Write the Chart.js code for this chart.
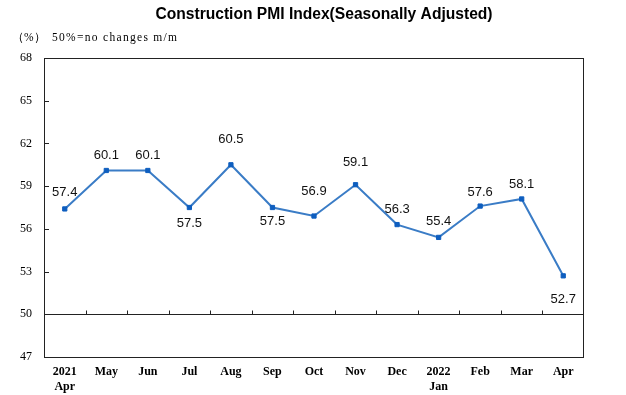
<!DOCTYPE html>
<html>
<head>
<meta charset="utf-8">
<script src="https://cdn.jsdelivr.net/npm/chart.js@4/dist/chart.umd.min.js"></script>
<style>
html,body{margin:0;padding:0;background:#fff;}
#wrap{position:relative;width:626px;height:395px;}
</style>
</head>
<body>
<div id="wrap"><canvas id="c" width="626" height="395"></canvas></div>
<script>
const categories = [['2021','Apr'],'May','Jun','Jul','Aug','Sep','Oct','Nov','Dec',['2022','Jan'],'Feb','Mar','Apr'];
const pmiValues = [57.4, 60.1, 60.1, 57.5, 60.5, 57.5, 56.9, 59.1, 56.3, 55.4, 57.6, 58.1, 52.7];
const yTicks = [47, 50, 53, 56, 59, 62, 65, 68];
const titleText = 'Construction PMI Index(Seasonally Adjusted)';
const unitText = '（%）';
const noteText = '50%=no changes m/m';

const serif = '"Liberation Serif", "DejaVu Serif", serif';
const sans = '"Liberation Sans", Arial, sans-serif';

const decor = {
  id: 'decor',
  afterDraw(chart, args, opts) {
    const ctx = chart.ctx;
    const a = chart.chartArea;
    const xs = chart.scales.x, ys = chart.scales.y;
    ctx.save();
    // titles
    ctx.fillStyle = '#000';
    ctx.font = 'bold 15.6px ' + sans;
    ctx.textAlign = 'center';
    ctx.textBaseline = 'middle';
    ctx.fillText(titleText, 324, 15);
    ctx.font = '11.5px ' + serif;
    ctx.textAlign = 'left';
    ctx.fillText(unitText, 12, 38);
    try { ctx.letterSpacing = '1.3px'; } catch (e) {}
    ctx.fillText(noteText, 52, 38);
    try { ctx.letterSpacing = '0px'; } catch (e) {}
    // frame
    ctx.strokeStyle = '#222';
    ctx.lineWidth = 1;
    ctx.strokeRect(Math.round(a.left) + 0.5, Math.round(a.top) + 0.5, Math.round(a.right - a.left) - 1, Math.round(a.bottom - a.top));
    // 50 line
    const y50 = Math.round(ys.getPixelForValue(50)) + 0.5;
    ctx.beginPath();
    ctx.moveTo(a.left, y50); ctx.lineTo(a.right, y50);
    ctx.stroke();
    // y tick marks inward
    yTicks.forEach(v => {
      if (v === 47 || v === 68 || v === 50) return;
      const y = Math.round(ys.getPixelForValue(v)) + 0.5;
      ctx.beginPath();
      ctx.moveTo(a.left, y); ctx.lineTo(a.left + 5, y);
      ctx.stroke();
    });
    // x tick marks at category boundaries on the 50 line
    for (let i = 1; i < categories.length; i++) {
      const x = Math.round((xs.getPixelForValue(i - 1) + xs.getPixelForValue(i)) / 2) + 0.5;
      ctx.beginPath();
      ctx.moveTo(x, y50); ctx.lineTo(x, y50 - 4);
      ctx.stroke();
    }
    // data labels
    const meta = chart.getDatasetMeta(0);
    ctx.font = '13px ' + sans;
    ctx.fillStyle = '#111';
    ctx.textAlign = 'center';
    ctx.textBaseline = 'middle';
    meta.data.forEach((pt, i) => {
      const dy = opts.labelOffsets[i];
      ctx.fillText(pmiValues[i].toFixed(1), pt.x, pt.y + dy);
    });
    ctx.restore();
  }
};

new Chart(document.getElementById('c'), {
  type: 'line',
  data: {
    labels: categories,
    datasets: [{
      data: pmiValues,
      borderColor: '#3A7CC6',
      borderWidth: 2,
      pointStyle: 'rect',
      pointRadius: 3,
      pointBackgroundColor: '#0E5EBF',
      pointBorderColor: '#0E5EBF',
      pointBorderWidth: 1,
      tension: 0,
      clip: false
    }]
  },
  options: {
    responsive: false,
    animation: false,
    events: [],
    layout: { padding: { top: 58, right: 42, left: 0, bottom: 0 } },
    plugins: {
      legend: { display: false },
      tooltip: { enabled: false },
      title: { display: false },
      decor: { labelOffsets: [-17, -15, -15, 16, -25, 14, -25, -22, -15, -16, -14, -15, 24] }
    },
    scales: {
      x: {
        offset: true,
        grid: { display: false, drawTicks: false },
        border: { display: false },
        ticks: {
          color: '#000',
          font: { family: serif, size: 12, weight: 'bold', lineHeight: 1.3 },
          padding: 7,
          maxRotation: 0,
          autoSkip: false
        },
        afterFit(s) { s.height = 38; }
      },
      y: {
        min: 47, max: 68,
        afterBuildTicks(s) { s.ticks = yTicks.map(v => ({ value: v })); },
        grid: { display: false, drawTicks: false },
        border: { display: false },
        ticks: {
          color: '#000',
          font: { family: serif, size: 12 },
          padding: 12
        },
        afterFit(s) { s.width = 44; }
      }
    }
  },
  plugins: [decor]
});
</script>
</body>
</html>
